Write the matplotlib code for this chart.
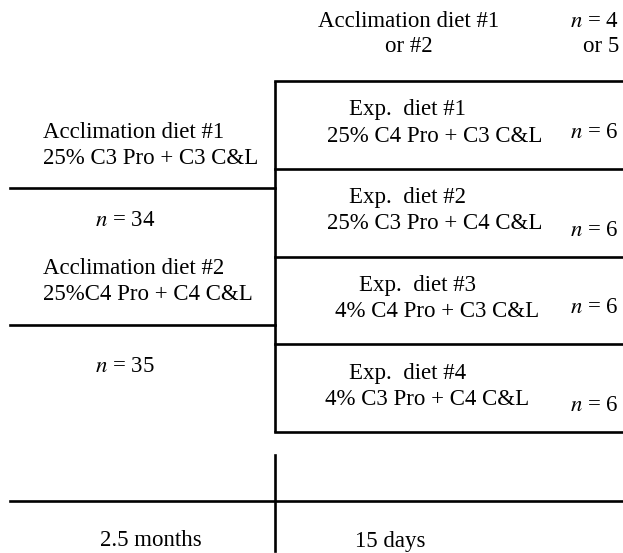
import matplotlib.pyplot as plt

# diagram content
top_label = "Acclimation diet #1\nor #2"
top_n = "$n$ = 4\nor 5"
exp_titles = ["Exp.  diet #1", "Exp.  diet #2", "Exp.  diet #3", "Exp.  diet #4"]
exp_diets = ["25% C4 Pro + C3 C&L", "25% C3 Pro + C4 C&L",
             "4% C4 Pro + C3 C&L", "4% C3 Pro + C4 C&L"]
exp_n = [6, 6, 6, 6]
accl_titles = ["Acclimation diet #1", "Acclimation diet #2"]
accl_diets = ["25% C3 Pro + C3 C&L", "25%C4 Pro + C4 C&L"]
accl_n = [34, 35]
periods = ["2.5 months", "15 days"]

plt.rcParams['font.family'] = ['Liberation Serif', 'DejaVu Serif']
plt.rcParams['mathtext.fontset'] = 'stix'
FS = 16.5
LW = 1.9

fig = plt.figure(figsize=(6.23, 5.53), dpi=100)
ax = fig.add_axes([0, 0, 1, 1])
ax.set_xlim(0, 623)
ax.set_ylim(553, 0)
ax.axis('off')

xv = 275
box_top = 81
row_h = 87.8
right = 623

# small offsets of the typeset text inside each row
title_x = [349, 349, 359, 349]
diet_x = [327, 327, 335, 325]
n_dy = [52, 62, 51, 61]

# box of experimental diets
ax.plot([xv, xv], [box_top, box_top + row_h * len(exp_titles)], color='k', lw=LW,
        solid_capstyle='butt')
for i in range(len(exp_titles) + 1):
    y = box_top + i * row_h
    ax.plot([xv, right], [y, y], color='k', lw=LW)
for i, (t, d, n) in enumerate(zip(exp_titles, exp_diets, exp_n)):
    y0 = box_top + i * row_h
    ax.text(title_x[i], y0 + 29, t, fontsize=FS, ha='left', va='center')
    ax.text(diet_x[i], y0 + 55, d, fontsize=FS, ha='left', va='center')
    ax.text(619, y0 + n_dy[i], f"$n$ = {n}", fontsize=FS, ha='right', va='center')

# header
ax.text(409, 34, top_label, fontsize=FS, ha='center', va='center', linespacing=1.3)
ax.text(619, 34, top_n, fontsize=FS, ha='right', va='center', linespacing=1.3,
        multialignment='right')

# acclimation branches
accl_y = [188, 325]
n_x = 125
for k, (t, d, n) in enumerate(zip(accl_titles, accl_diets, accl_n)):
    y = accl_y[k]
    ax.plot([10, xv], [y, y], color='k', lw=LW)
    ax.text(43, y - 56, t, fontsize=FS, ha='left', va='center')
    ax.text(43, y - 30, d, fontsize=FS, ha='left', va='center')
    ax.text(n_x, y + 33 if k == 0 else y + 42, f"$n$ = {n}", fontsize=FS,
            ha='center', va='center')

# timeline
ax.plot([10, right], [501, 501], color='k', lw=LW)
ax.plot([xv, xv], [455, 551], color='k', lw=LW)
ax.text(151, 541, periods[0], fontsize=FS, ha='center', va='center')
ax.text(355, 541, periods[1], fontsize=FS, ha='left', va='center')

fig.savefig("out.png", dpi=100)
